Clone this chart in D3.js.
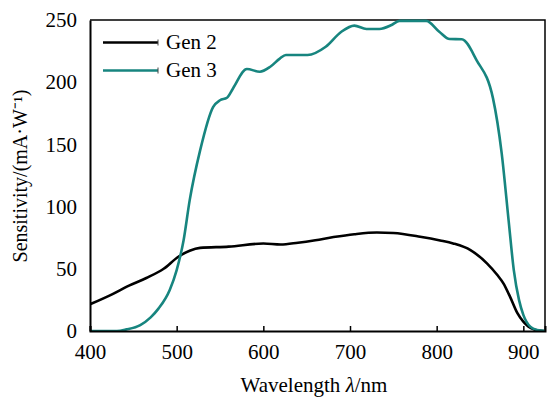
<!DOCTYPE html>
<html>
<head>
<meta charset="utf-8">
<script src="https://cdn.jsdelivr.net/npm/d3@7"></script>
<style>
  body { margin: 0; background: #fff; }
</style>
</head>
<body>
<svg class="chart"></svg>
<script>
// data (wavelength nm, sensitivity mA/W)
const gen2Wave = [400, 426, 445, 465, 485, 502, 515, 527, 560, 600, 620, 640, 660, 681, 705, 731, 750, 781, 804, 819, 839, 858, 870, 877, 885, 893, 900, 906, 912, 918, 925];
const gen2Value = [21.5, 29.7, 36.5, 42.6, 50, 59.7, 64.5, 66.8, 67.8, 70.3, 69.5, 71, 73, 75.5, 77.8, 79.2, 78.8, 75.8, 72.8, 70.4, 65, 54.4, 45, 38.3, 27, 14.5, 7.5, 3.5, 1.3, 0.4, 0];

const gen3Wave = [400, 431, 442, 458, 470, 479, 492, 500, 508, 515, 527, 542, 550, 558, 565, 581, 596, 608, 619, 626, 651, 672, 690, 705, 719, 734, 748, 757, 770, 788, 803, 815, 829, 846, 865, 875, 883, 889, 895, 900, 908, 916, 925];
const gen3Value = [0, 0, 1.3, 4.8, 11, 18, 33, 49, 73, 105, 145, 180, 185.5, 187.5, 195, 210.6, 208.4, 212.4, 219, 221.9, 221.9, 228.5, 240.6, 245.5, 242.8, 242.8, 246, 249.3, 249.3, 249.3, 240.6, 234.7, 234.5, 217.8, 187, 143, 89, 49, 25, 13, 3.5, 0.8, 0];

const seriesNames = ['Gen 2', 'Gen 3'];
const seriesColors = ['#000000', '#17857f'];
const xTicks = [400, 500, 600, 700, 800, 900];
const yTicks = [0, 50, 100, 150, 200, 250];

const serif = '"Liberation Serif", "Times New Roman", Times, serif';

const svg = d3.select('.chart')
	.attr('width', 556)
	.attr('height', 397)
	.style('font-family', serif);

const margin = { top: 20, right: 11, bottom: 66, left: 90 };
const innerWidth = 556 - margin.left - margin.right;
const innerHeight = 397 - margin.top - margin.bottom;

const xScale = d3.scaleLinear()
	.domain([400, 925])
	.range([0, innerWidth]);

const yScale = d3.scaleLinear()
	.domain([0, 250])
	.range([innerHeight, 0]);

const g = svg.append('g')
	.attr('transform', `translate(${margin.left}, ${margin.top})`);

g.append('clipPath').attr('id', 'clip')
	.append('rect')
		.attr('y', -2)
		.attr('width', innerWidth)
		.attr('height', innerHeight + 2);

// frame (top/right)
g.append('path')
	.attr('d', `M0,0H${innerWidth}V${innerHeight}`)
	.attr('fill', 'none')
	.attr('stroke', '#000')
	.attr('stroke-width', 1.5);

const series = [
	gen2Wave.map((w, i) => ({ x: w, y: gen2Value[i] })),
	gen3Wave.map((w, i) => ({ x: w, y: gen3Value[i] }))
];

const line = d3.line()
	.x(d => xScale(d.x))
	.y(d => yScale(d.y))
	.curve(d3.curveMonotoneX);

g.append('g').attr('clip-path', 'url(#clip)')
	.selectAll('path')
	.data(series)
	.enter()
	.append('path')
		.attr('d', line)
		.attr('fill', 'none')
		.attr('stroke', (d, i) => seriesColors[i])
		.attr('stroke-width', 2.6)
		.attr('stroke-linejoin', 'round');

const xAxis = d3.axisBottom(xScale)
	.tickValues(xTicks)
	.tickSize(-5)
	.tickPadding(13);

const xAxisG = g.append('g').call(xAxis)
	.attr('transform', `translate(0, ${innerHeight})`)
	.attr('font-family', null)
	.attr('font-size', null);
xAxisG.select('.domain').attr('stroke-width', 2);
xAxisG.selectAll('.tick line').attr('stroke-width', 1.5);
xAxisG.selectAll('.tick text')
	.style('font-family', serif)
	.style('font-size', '21px');

const yAxis = d3.axisLeft(yScale)
	.tickValues(yTicks)
	.tickSize(0)
	.tickPadding(13);

const yAxisG = g.append('g').call(yAxis)
	.attr('font-family', null)
	.attr('font-size', null);
yAxisG.select('.domain').attr('stroke-width', 2);
yAxisG.selectAll('.tick text')
	.style('font-family', serif)
	.style('font-size', '21px');

// axis titles
const xt = svg.append('text')
	.attr('x', 314)
	.attr('y', 392)
	.attr('text-anchor', 'middle')
	.style('font-family', serif)
	.style('font-size', '21px');
xt.append('tspan').text('Wavelength ');
xt.append('tspan').attr('font-style', 'italic').text('λ');
xt.append('tspan').text('/nm');

svg.append('text')
	.attr('transform', 'translate(27, 176) rotate(-90)')
	.attr('text-anchor', 'middle')
	.style('font-family', serif)
	.style('font-size', '20px')
	.text('Sensitivity/(mA·W⁻¹)');

// legend
const legend = g.selectAll('.legend')
	.data(seriesNames)
	.enter()
	.append('g')
		.attr('transform', (d, i) => `translate(13, ${22.5 + i * 28})`);

legend.append('line')
	.attr('x1', 0).attr('x2', 55)
	.attr('stroke', (d, i) => seriesColors[i])
	.attr('stroke-width', 2.6);
legend.append('line')
	.attr('x1', 55).attr('x2', 55)
	.attr('y1', -3).attr('y2', 3)
	.attr('stroke', '#444')
	.attr('stroke-width', 1);
legend.append('text')
	.attr('x', 63)
	.attr('dy', '0.33em')
	.style('font-family', serif)
	.style('font-size', '21px')
	.text(d => d);
</script>
</body>
</html>
